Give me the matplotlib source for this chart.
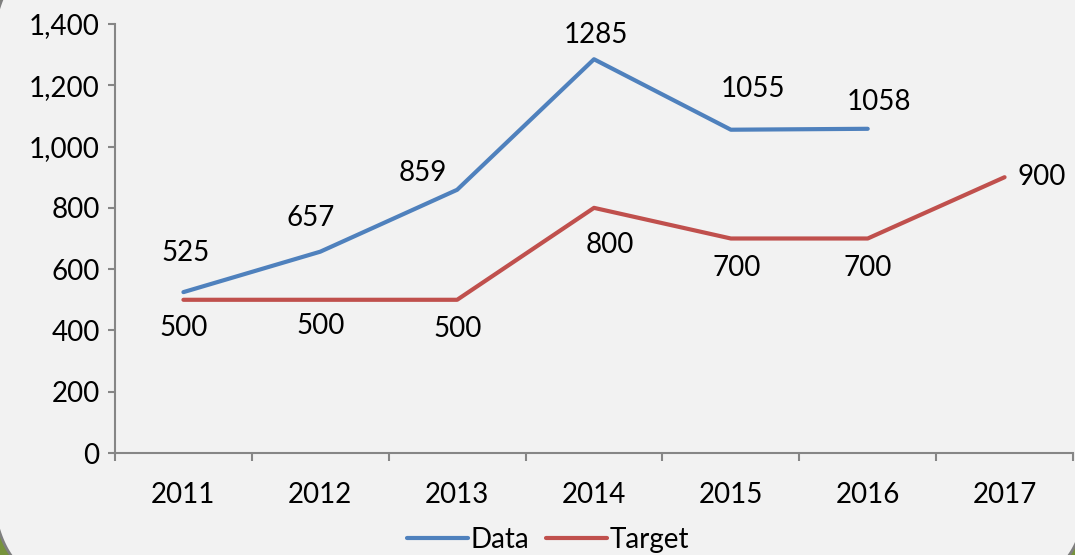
import numpy as np
import matplotlib
matplotlib.use('Agg')
import matplotlib.pyplot as plt
from matplotlib.path import Path
from matplotlib.patches import PathPatch
from matplotlib.ticker import FuncFormatter

years  = ['2011', '2012', '2013', '2014', '2015', '2016', '2017']
data   = [525, 657, 859, 1285, 1055, 1058]
target = [500, 500, 500, 800, 700, 700, 900]

# label offsets in pixels (dx, dy) from each point
data_off   = [(2, 39), (-10, 34), (-34, 17), (2, 24), (22, 41), (11, 27)]
target_off = [(0, -28), (0, -26), (0, -29), (16, -37), (6, -30), (0, -29), (37, 0)]

BLUE  = '#4f81bd'
RED   = '#c0504d'
AXIS  = '#868686'
BG    = '#f2f2f2'
GREEN = '#77933c'

plt.rcParams['font.family'] = ['Lato', 'DejaVu Sans']

W, H = 1075, 555
fig = plt.figure(figsize=(W / 100, H / 100), dpi=100)
fig.patch.set_facecolor(GREEN)


def rounded_panel(L, T, R, B, rx, ry, n=40):
    # elliptical corners, pixel coords with y measured from top
    pts = []
    corners = [((R - rx, T + ry), -90, 0), ((R - rx, B - ry), 0, 90),
               ((L + rx, B - ry), 90, 180), ((L + rx, T + ry), 180, 270)]
    for (cx, cy), a0, a1 in corners:
        for tt in np.radians(np.linspace(a0, a1, n)):
            pts.append((cx + rx * np.cos(tt), cy + ry * np.sin(tt)))
    pts.append(pts[0])
    pts = [(px / 100, (H - py) / 100) for px, py in pts]
    return Path(pts)


panel = PathPatch(rounded_panel(-8, -34, 1088, 572, 45, 90),
                  facecolor=BG, edgecolor='#7f7f7f', lw=2,
                  transform=fig.dpi_scale_trans, zorder=-5)
fig.patches.append(panel)

ax = fig.add_axes([115 / W, (H - 453) / H, (1073 - 115) / W, (453 - 24) / H])
ax.set_facecolor('none')
ax.set_zorder(2)

x = np.arange(len(years))
ax.plot(x[:len(data)], data, color=BLUE, lw=3, solid_capstyle='round',
        solid_joinstyle='round', label='Data')
ax.plot(x, target, color=RED, lw=3, solid_capstyle='round',
        solid_joinstyle='round', label='Target')

for i, v in enumerate(data):
    ax.annotate(str(v), (x[i], v), xytext=data_off[i], textcoords='offset pixels',
                ha='center', va='center', fontsize=20, color='black')
for i, v in enumerate(target):
    ax.annotate(str(v), (x[i], v), xytext=target_off[i], textcoords='offset pixels',
                ha='center', va='center', fontsize=20, color='black')

ax.set_xlim(-0.5, len(years) - 0.5)
ax.set_ylim(0, 1400)
ax.set_yticks(range(0, 1401, 200))
ax.yaxis.set_major_formatter(FuncFormatter(lambda v, p: f'{int(v):,}'))
ax.set_xticks(x)
ax.set_xticklabels(years)
ax.set_xticks(np.arange(-0.5, len(years)), minor=True)

for s in ['top', 'right']:
    ax.spines[s].set_visible(False)
for s in ['left', 'bottom']:
    ax.spines[s].set_color(AXIS)
    ax.spines[s].set_linewidth(1.5)

ax.tick_params(axis='y', length=5, width=1.5, color=AXIS, labelsize=20, pad=6)
ax.tick_params(axis='x', which='major', length=0, labelsize=20, pad=21)
ax.tick_params(axis='x', which='minor', length=6, width=1.5, color=AXIS)

leg = fig.legend(loc='center', bbox_to_anchor=(548 / W, (H - 540) / H), ncol=2,
                 frameon=False, fontsize=20, handlelength=2.2, handletextpad=0.1,
                 columnspacing=0.6, borderaxespad=0)

fig.savefig('out.png', dpi=100, facecolor=fig.get_facecolor())
